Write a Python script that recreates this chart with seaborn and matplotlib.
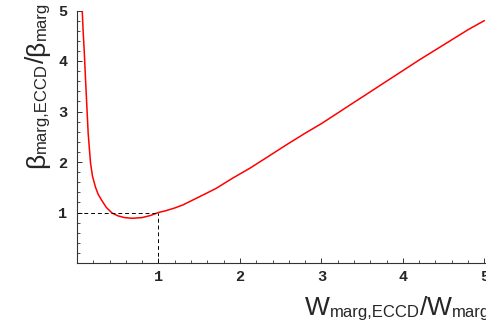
import numpy as np
import pandas as pd
import matplotlib
matplotlib.use('Agg')
import matplotlib.pyplot as plt
import seaborn as sns
from matplotlib.ticker import MultipleLocator, FixedLocator

# Data
w_ratio = [0.064, 0.075, 0.088, 0.100, 0.117, 0.137, 0.166, 0.190, 0.227, 0.260,
           0.300, 0.360, 0.430, 0.500, 0.580, 0.680, 0.800, 0.900, 1.000, 1.090,
           1.200, 1.300, 1.400, 1.500, 1.600, 1.710, 1.900, 2.120, 2.300, 2.570,
           2.800, 3.000, 3.200, 3.380, 3.600, 3.790, 4.000, 4.200, 4.400, 4.610,
           4.800, 5.000]
beta_ratio = [5.00, 4.60, 4.22, 3.80, 3.23, 2.57, 1.98, 1.72, 1.50, 1.36,
              1.25, 1.10, 0.99, 0.935, 0.90, 0.885, 0.90, 0.94, 1.00, 1.035,
              1.09, 1.15, 1.23, 1.31, 1.39, 1.48, 1.67, 1.875, 2.06, 2.34,
              2.57, 2.76, 2.97, 3.16, 3.39, 3.59, 3.81, 4.02, 4.22, 4.43,
              4.62, 4.80]
x_ticks = [1, 2, 3, 4, 5]
y_ticks = [1, 2, 3, 4, 5]
ref_w = 1.0
ref_beta = 1.0
# label pieces: (text, size in pt, subscript)
x_label = [('W', 19, False), ('marg,ECCD', 12, True), ('/', 19, False),
           ('W', 19, False), ('marg', 12, True)]
y_label = [('β', 19, False), ('marg,ECCD', 12, True), ('/', 19, False),
           ('β', 19, False), ('marg', 12, True)]

sns.set_style('ticks')
plt.rcParams['font.family'] = ['Liberation Sans', 'DejaVu Sans']

W, H = 486, 329
fig = plt.figure(figsize=(W / 100, H / 100), dpi=100)
ax = fig.add_axes([77 / W, 66 / H, (W - 77) / W, (263 - 10.5) / H])

df = pd.DataFrame({'w': w_ratio, 'beta': beta_ratio})
sns.lineplot(data=df, x='w', y='beta', color='#ff0000', lw=1.1, sort=False,
             estimator=None, ax=ax)

ax.hlines(ref_beta, 0, ref_w, colors='black', linestyles=(0, (4, 3)), lw=0.7)
ax.vlines(ref_w, 0, ref_beta, colors='black', linestyles=(0, (4, 3)), lw=0.7)

ax.set_xlim(0, 5.02)
ax.set_ylim(0, 5.0)
ax.xaxis.set_major_locator(FixedLocator(x_ticks))
ax.yaxis.set_major_locator(FixedLocator(y_ticks))
ax.xaxis.set_minor_locator(MultipleLocator(0.2))
ax.yaxis.set_minor_locator(MultipleLocator(0.2))
tick_font = dict(family='Liberation Mono', weight='bold', size=11)
ax.set_xticklabels([str(t) for t in x_ticks], **tick_font)
ax.set_yticklabels([str(t) for t in y_ticks], **tick_font)

sns.despine(ax=ax)
for s in ['left', 'bottom']:
    ax.spines[s].set_linewidth(0.8)
    ax.spines[s].set_color('#333333')
ax.tick_params(which='major', direction='in', length=3.5, width=0.7, color='#333333')
ax.tick_params(which='minor', direction='in', length=2.0, width=0.6, color='#333333')
ax.tick_params(axis='y', which='major', pad=7)
ax.tick_params(axis='x', which='major', pad=5)
ax.set_xlabel('')
ax.set_ylabel('')

renderer = fig.canvas.get_renderer()


def draw_label(pieces, x0, y0, vertical=False, drop=2):
    x, y = x0, y0
    for txt, size, sub in pieces:
        d = drop if sub else 0
        if not vertical:
            t = fig.text(x / W, (y - d) / H, txt, fontsize=size, ha='left',
                         va='baseline', family='Liberation Sans')
            x += t.get_window_extent(renderer).width
        else:
            t = fig.text((x + d) / W, y / H, txt, fontsize=size, rotation=90,
                         rotation_mode='anchor', ha='left', va='baseline',
                         family='Liberation Sans')
            y += t.get_window_extent(renderer).height


draw_label(x_label, 305, 14)
draw_label(y_label, 44, 161, vertical=True)

fig.savefig('out.png', dpi=100)
